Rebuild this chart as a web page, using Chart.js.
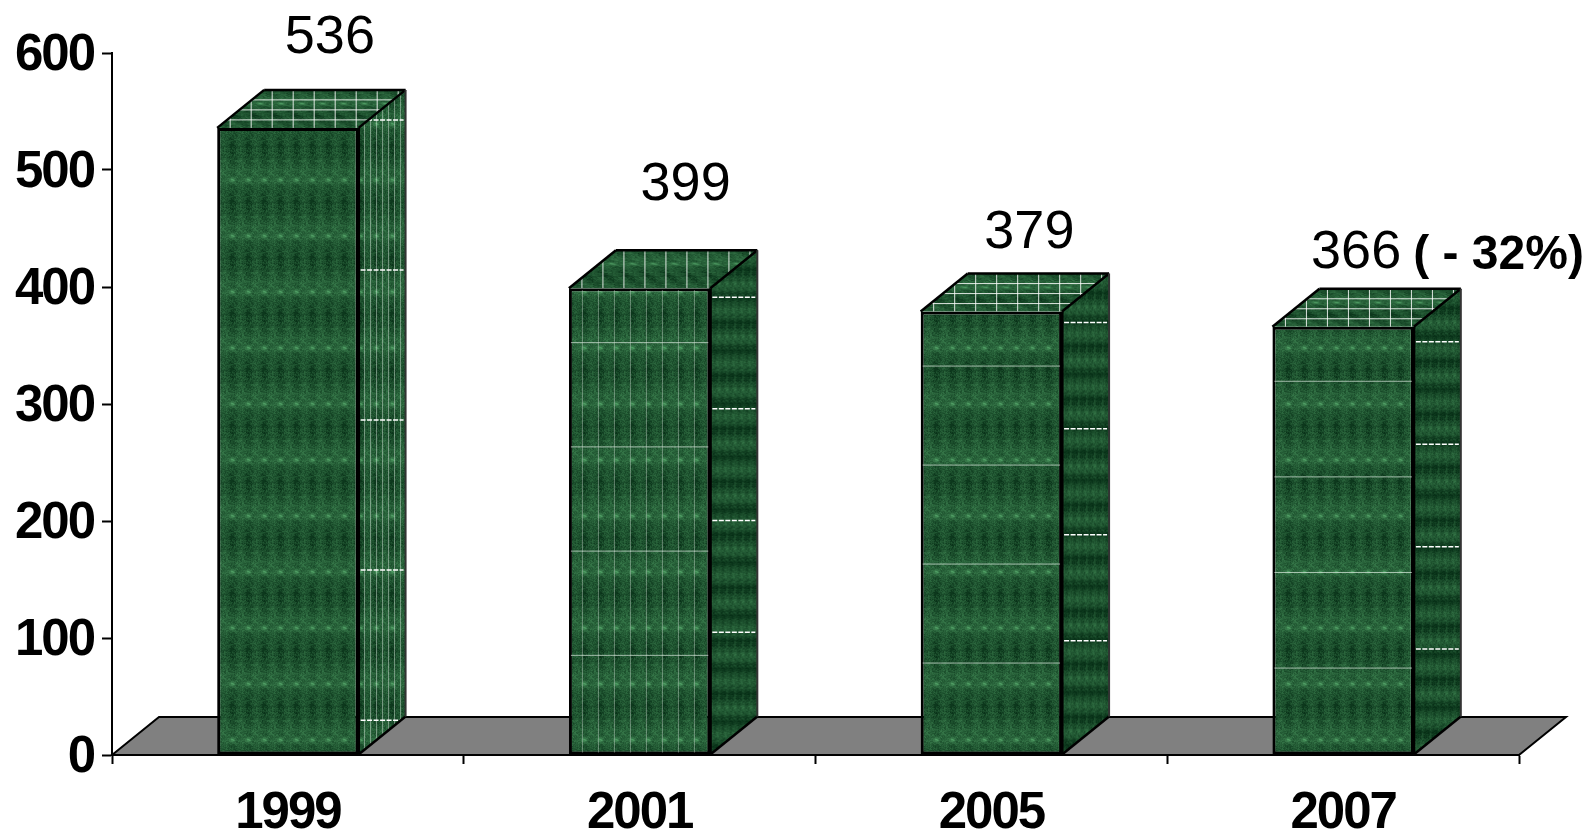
<!DOCTYPE html>
<html>
<head>
<meta charset="utf-8">
<title>Bars by year</title>
<style>
    html, body { margin: 0; padding: 0; background: #fff; }
    canvas { display: block; }
</style>
<script src="https://cdn.jsdelivr.net/npm/chart.js@4/dist/chart.umd.min.js"></script>
</head>
<body>
<canvas id="barChart" width="1588" height="831"></canvas>
<script>
    const years = ['1999', '2001', '2005', '2007'];
    const counts = [536, 399, 379, 366];
    const yTicks = [0, 100, 200, 300, 400, 500, 600];
    const changeNote = '( - 32%)';

    const DEPTH_X = 47;
    const DEPTH_Y = 38;
    const FONT = '"Liberation Sans", Arial, sans-serif';

    // label nudges from the top of each bar's front face
    const labelNudge = [[42, -90], [46, -103], [38, -78], [13, -74]];

    // seams and stitching on each block's wrap
    const wrap = [
        { frontCols: false, frontRows: false, topRows: true, sideCols: true, sideStart: 30 },
        { frontCols: true, frontRows: true, topRows: false, sideCols: false, sideStart: 47 },
        { frontCols: false, frontRows: true, topRows: true, sideCols: false, sideStart: 49 },
        { frontCols: false, frontRows: true, topRows: true, sideCols: false, sideStart: 53 }
    ];

    // cheap repeatable noise for the fabric texture
    function noise(x, y) {
        const n = Math.sin(x * 127.1 + y * 311.7) * 43758.5453;
        return n - Math.floor(n);
    }

    function makeTile(w, h, shade) {
        const c = document.createElement('canvas');
        c.width = w;
        c.height = h;
        const g = c.getContext('2d');
        const img = g.createImageData(w, h);
        for (let y = 0; y < h; y++) {
            for (let x = 0; x < w; x++) {
                const grain = noise(x, y) * 0.6 + noise(x >> 1, y >> 1) * 0.4;
                const v = shade(x / w, y / h) + (grain - 0.5) * 0.5;
                const i = (y * w + x) * 4;
                img.data[i] = 14 + 60 * v;
                img.data[i + 1] = 58 + 92 * v;
                img.data[i + 2] = 30 + 64 * v;
                img.data[i + 3] = 255;
            }
        }
        g.putImageData(img, 0, 0);
        return c;
    }

    const frontTile = makeTile(16, 56, (u, v) => {
        const col = 0.1 * Math.cos(u * Math.PI * 2);
        const band = 0.1 * Math.cos(v * Math.PI * 2 - 0.7);
        const dx = u - 0.5, dy = v - 0.2;
        const spot = 0.8 * Math.exp(-(dx * dx * 30 + dy * dy * 500));
        return 0.3 + col + band + spot;
    });

    const sideTile = makeTile(8, 53, (u, v) => {
        const band = 0.2 + 0.18 * Math.cos(v * Math.PI * 2 * 2 + 1);
        return band + 0.08 * Math.cos(u * Math.PI * 2);
    });

    const ctx = document.getElementById('barChart').getContext('2d');
    const frontPattern = ctx.createPattern(frontTile, 'repeat');

    function sidePattern(x, y) {
        const p = ctx.createPattern(sideTile, 'repeat');
        p.setTransform(new DOMMatrix([1, 0, 0, 1, x, y]));
        return p;
    }

    function topPattern(x, y) {
        const p = ctx.createPattern(frontTile, 'repeat');
        p.setTransform(new DOMMatrix([1.3, 0, DEPTH_X / DEPTH_Y * 0.55, 0.55, x, y]));
        return p;
    }

    function line(c, x1, y1, x2, y2) {
        c.beginPath();
        c.moveTo(x1, y1);
        c.lineTo(x2, y2);
        c.stroke();
    }

    function poly(c, pts) {
        c.beginPath();
        pts.forEach((p, i) => (i ? c.lineTo(p[0], p[1]) : c.moveTo(p[0], p[1])));
        c.closePath();
    }

    const floorPlugin = {
        id: 'floor',
        beforeDraw(chart) {
            // the bold axis digits sit tight together
            chart.ctx.letterSpacing = '-2px';
        },
        beforeDatasetsDraw(chart) {
            const { ctx: c, chartArea: a } = chart;
            poly(c, [[a.left, a.bottom], [a.left + DEPTH_X, a.bottom - DEPTH_Y],
                [a.right + DEPTH_X, a.bottom - DEPTH_Y], [a.right, a.bottom]]);
            c.fillStyle = '#808080';
            c.fill();
            c.strokeStyle = '#000';
            c.lineWidth = 2;
            c.lineJoin = 'miter';
            c.stroke();
        }
    };

    const blockPlugin = {
        id: 'blocks',
        afterDatasetsDraw(chart) {
            const c = chart.ctx;
            const meta = chart.getDatasetMeta(0);
            meta.data.forEach((bar, i) => {
                const w = wrap[i];
                const half = bar.width / 2;
                const l = bar.x - half, r = bar.x + half;
                const t = bar.y, b = bar.base;
                const h = b - t;
                const backR = r + DEPTH_X, backT = t - DEPTH_Y;
                c.save();

                // right-hand face
                const side = [[r, t], [backR, backT], [backR, b - DEPTH_Y], [r, b]];
                poly(c, side);
                c.fillStyle = w.sideCols ? frontPattern : sidePattern(r, t);
                c.fill();
                c.save();
                poly(c, side);
                c.clip();
                c.strokeStyle = 'rgba(235,245,238,0.45)';
                c.lineWidth = 1;
                if (w.sideCols) {
                    for (let x = r + 6; x < backR; x += 6) line(c, x, backT, x, b);
                }
                c.strokeStyle = '#fff';
                c.lineWidth = 1.5;
                c.setLineDash([5, 1.5]);
                const rowGap = h * 0.2395;
                for (let y = backT + w.sideStart; y < b - DEPTH_Y + 8; y += rowGap) {
                    line(c, r + 2, y, backR - 2, y);
                }
                c.restore();

                // top face
                const top = [[l, t], [l + DEPTH_X, backT], [backR, backT], [r, t]];
                poly(c, top);
                c.fillStyle = topPattern(l, t);
                c.fill();
                c.save();
                poly(c, top);
                c.clip();
                c.strokeStyle = 'rgba(255,255,255,0.85)';
                c.lineWidth = 1;
                for (let x = l + 13; x < backR; x += 21) line(c, x, backT, x, t);
                if (w.topRows) {
                    for (let y = t - 8; y > backT + 2; y -= 10) line(c, l, y, backR, y);
                }
                c.restore();

                // seams across the front
                c.strokeStyle = 'rgba(225,238,228,0.7)';
                c.lineWidth = 1;
                if (w.frontRows) {
                    const gap = h * 0.2235;
                    for (let y = t + 54; y < b - 20; y += gap) line(c, l + 2, y + 0.5, r - 2, y + 0.5);
                }
                if (w.frontCols) {
                    c.strokeStyle = 'rgba(225,238,228,0.4)';
                    for (let x = l + 13; x < r - 4; x += 16) line(c, x + 0.5, t + 2, x + 0.5, b - 2);
                }

                // block outlines
                c.strokeStyle = '#000';
                c.lineWidth = 2.5;
                c.lineJoin = 'round';
                line(c, l, t, l + DEPTH_X, backT);
                line(c, l + DEPTH_X, backT, backR, backT);
                line(c, r, t, backR, backT);
                line(c, r, b, backR, b - DEPTH_Y);
                c.lineWidth = 2;
                c.strokeStyle = '#333';
                line(c, backR, backT, backR, b - DEPTH_Y);
                c.strokeStyle = '#000';
                c.lineWidth = 3;
                line(c, r, t, r, b);
                c.restore();
            });

            // value labels above the blocks
            c.save();
            c.letterSpacing = '0px';
            c.fillStyle = '#000';
            c.textBaseline = 'middle';
            c.textAlign = 'center';
            meta.data.forEach((bar, i) => {
                c.font = '54px ' + FONT;
                const x = bar.x + labelNudge[i][0];
                const y = bar.y + labelNudge[i][1];
                const text = String(counts[i]);
                c.fillText(text, x, y);
                if (i === counts.length - 1) {
                    const end = x + c.measureText(text).width / 2;
                    c.textAlign = 'left';
                    c.font = 'bold 48px ' + FONT;
                    c.fillText(changeNote, end + 12, y + 3);
                }
            });
            c.restore();
        }
    };

    new Chart(ctx, {
        type: 'bar',
        data: {
            labels: years,
            datasets: [{
                data: counts,
                backgroundColor: frontPattern,
                borderColor: '#000',
                borderWidth: 3,
                borderSkipped: false,
                barPercentage: 1,
                categoryPercentage: 0.402
            }]
        },
        options: {
            responsive: false,
            animation: false,
            events: [],
            layout: { padding: { top: 53, right: 69 } },
            plugins: { legend: { display: false }, tooltip: { enabled: false } },
            scales: {
                x: {
                    afterFit(scale) { scale.height = 76; },
                    border: { color: '#000', width: 2 },
                    grid: { drawOnChartArea: false, tickLength: 9, tickColor: '#000', tickWidth: 2 },
                    ticks: {
                        color: '#000',
                        padding: 19,
                        maxRotation: 0,
                        font: { family: FONT, weight: 'bold', size: 51 }
                    }
                },
                y: {
                    min: yTicks[0],
                    max: yTicks[yTicks.length - 1],
                    afterFit(scale) { scale.width = 112; },
                    border: { color: '#000', width: 2 },
                    grid: { drawOnChartArea: false, tickLength: 10, tickColor: '#000', tickWidth: 2 },
                    ticks: {
                        color: '#000',
                        stepSize: 100,
                        padding: 8,
                        // blank first line drops the digits a touch below the tick
                        callback: value => ['', String(value)],
                        font: { family: FONT, weight: 'bold', size: 51, lineHeight: '5px' }
                    }
                }
            }
        },
        plugins: [floorPlugin, blockPlugin]
    });
</script>
</body>
</html>
